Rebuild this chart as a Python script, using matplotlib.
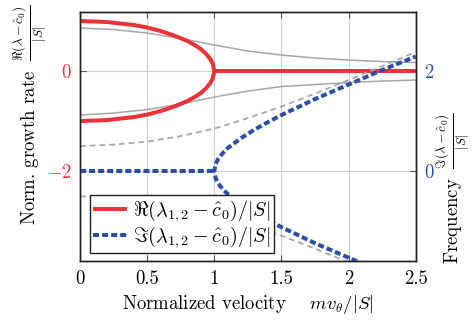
import numpy as np
import matplotlib
matplotlib.use("Agg")
import matplotlib.pyplot as plt

plt.rcParams.update({
    "font.family": "serif",
    "font.serif": ["cmr10"],
    "mathtext.fontset": "cm",
    "axes.formatter.use_mathtext": True,
    "axes.unicode_minus": False,
    "font.size": 13.5,
})

RED = "#ec3339"
BLUE = "#2e4ea6"
GRAY = "#a8a8a8"

# real part of lambda_{1,2}: upper branch up to v = 1 (lower is its mirror), then 0
v_re = [0.0, 0.2, 0.4, 0.5, 0.6, 0.7, 0.8, 0.86, 0.9, 0.94, 0.97, 0.99, 1.0]
re_up = [1.0, 0.98, 0.92, 0.87, 0.80, 0.71, 0.60, 0.51, 0.44, 0.34, 0.24, 0.14, 0.0]
v_re_flat = [1.0, 2.5]
re_flat = [0.0, 0.0]

# imaginary part of lambda_{1,2}: zero up to v = 1, then splits in two branches
v_im_flat = [0.0, 1.0]
im_flat = [0.0, 0.0]
v_im = [1.0, 1.01, 1.03, 1.06, 1.1, 1.2, 1.3, 1.4, 1.5, 1.75, 2.0, 2.25, 2.5]
im_up = [0.0, 0.14, 0.25, 0.35, 0.46, 0.66, 0.83, 0.98, 1.12, 1.44, 1.73, 2.02, 2.29]

# other eigenvalue pair (gray)
v_g = [0.0, 0.25, 0.5, 0.75, 1.0, 1.25, 1.5, 1.75, 2.0, 2.25, 2.5]
g_re_up = [0.86, 0.83, 0.76, 0.65, 0.52, 0.40, 0.32, 0.26, 0.22, 0.19, 0.17]
g_re_lo = [-0.88, -0.84, -0.77, -0.66, -0.52, -0.40, -0.31, -0.27, -0.23, -0.20, -0.18]
g_im_up = [0.50, 0.53, 0.59, 0.70, 0.85, 1.06, 1.29, 1.55, 1.82, 2.10, 2.38]
g_im_lo = [-0.50, -0.53, -0.59, -0.70, -0.85, -1.06, -1.29, -1.55, -1.82, -2.10, -2.38]

xticks = [0, 0.5, 1, 1.5, 2, 2.5]
xticklabels = ["0", "0.5", "1", "1.5", "2", "2.5"]

fig = plt.figure(figsize=(4.73, 3.21), dpi=100)
ax = fig.add_axes([80 / 473, 1 - 260.7 / 321, 335.7 / 473, 248.7 / 321])
ax2 = ax.twinx()

ax.set_xlim(0, 2.5)
ax.set_ylim(-3.79, 1.18)
ax2.set_ylim(-1.79, 3.18)

ax.set_xticks(xticks)
ax.set_xticklabels(xticklabels)
ax.set_yticks([-2, 0])
ax.set_yticklabels(["$-2$", "$0$"])
ax2.set_yticks([0, 2])
ax2.set_yticklabels(["$0$", "$2$"])

ax.grid(True, color="#cfcfcf", lw=0.8)
ax.set_axisbelow(True)
ax.tick_params(axis="x", direction="in", top=True, length=4, color="#555555", pad=7)
ax.tick_params(axis="y", direction="in", length=4, color="#555555", labelcolor=RED, pad=6)
ax2.tick_params(axis="y", direction="in", length=4, color="#555555", labelcolor=BLUE, pad=6)
for a in (ax, ax2):
    for s in a.spines.values():
        s.set_linewidth(1.0)
        s.set_color("#222222")

v_re = np.array(v_re)
re_up = np.array(re_up)
v_im = np.array(v_im)
im_up = np.array(im_up)

ax.plot(v_g, g_re_up, color=GRAY, lw=1.1)
ax.plot(v_g, g_re_lo, color=GRAY, lw=1.1)
ax.plot(np.r_[v_re, v_re[::-1]], np.r_[-re_up, re_up[::-1]], color=RED, lw=2.9,
        solid_capstyle="butt")
l_re, = ax.plot(v_re_flat, re_flat, color=RED, lw=2.9, solid_capstyle="butt")

ax2.plot(v_g, g_im_up, color=GRAY, lw=1.3, ls=(0, (3.2, 2.2)))
ax2.plot(v_g, g_im_lo, color=GRAY, lw=1.3, ls=(0, (3.2, 2.2)))
l_im, = ax2.plot(v_im_flat, im_flat, color=BLUE, lw=2.9, ls=(0, (1.5, 0.75)))
ax2.plot(np.r_[v_im[::-1], v_im], np.r_[-im_up[::-1], im_up], color=BLUE, lw=2.9,
         ls=(0, (1.5, 0.75)))

leg = ax2.legend([l_re, l_im],
                 [r"$\Re(\lambda_{1,2}-\hat{c}_0)/|S|$", r"$\Im(\lambda_{1,2}-\hat{c}_0)/|S|$"],
                 loc="lower left", bbox_to_anchor=(0.03, 0.031), borderaxespad=0,
                 fancybox=False, framealpha=1, edgecolor="#222222", fontsize=14.5,
                 handlelength=1.7, handletextpad=0.3, borderpad=0.15, labelspacing=0.0)
leg.get_frame().set_linewidth(1.0)

fig.text(30 / 473, 1 - 115 / 321,
         r"Norm. growth rate $\;\frac{\Re(\lambda-\hat{c}_0)}{|S|}$",
         rotation=90, ha="center", va="center")
fig.text(453 / 473, 1 - 188 / 321,
         r"Frequency $\;\frac{\Im(\lambda-\hat{c}_0)}{|S|}$",
         rotation=90, ha="center", va="center")
fig.text(248 / 473, 1 - 305 / 321,
         r"Normalized velocity    $mv_\theta/|S|$",
         ha="center", va="center")

fig.savefig("out.png", dpi=100)
